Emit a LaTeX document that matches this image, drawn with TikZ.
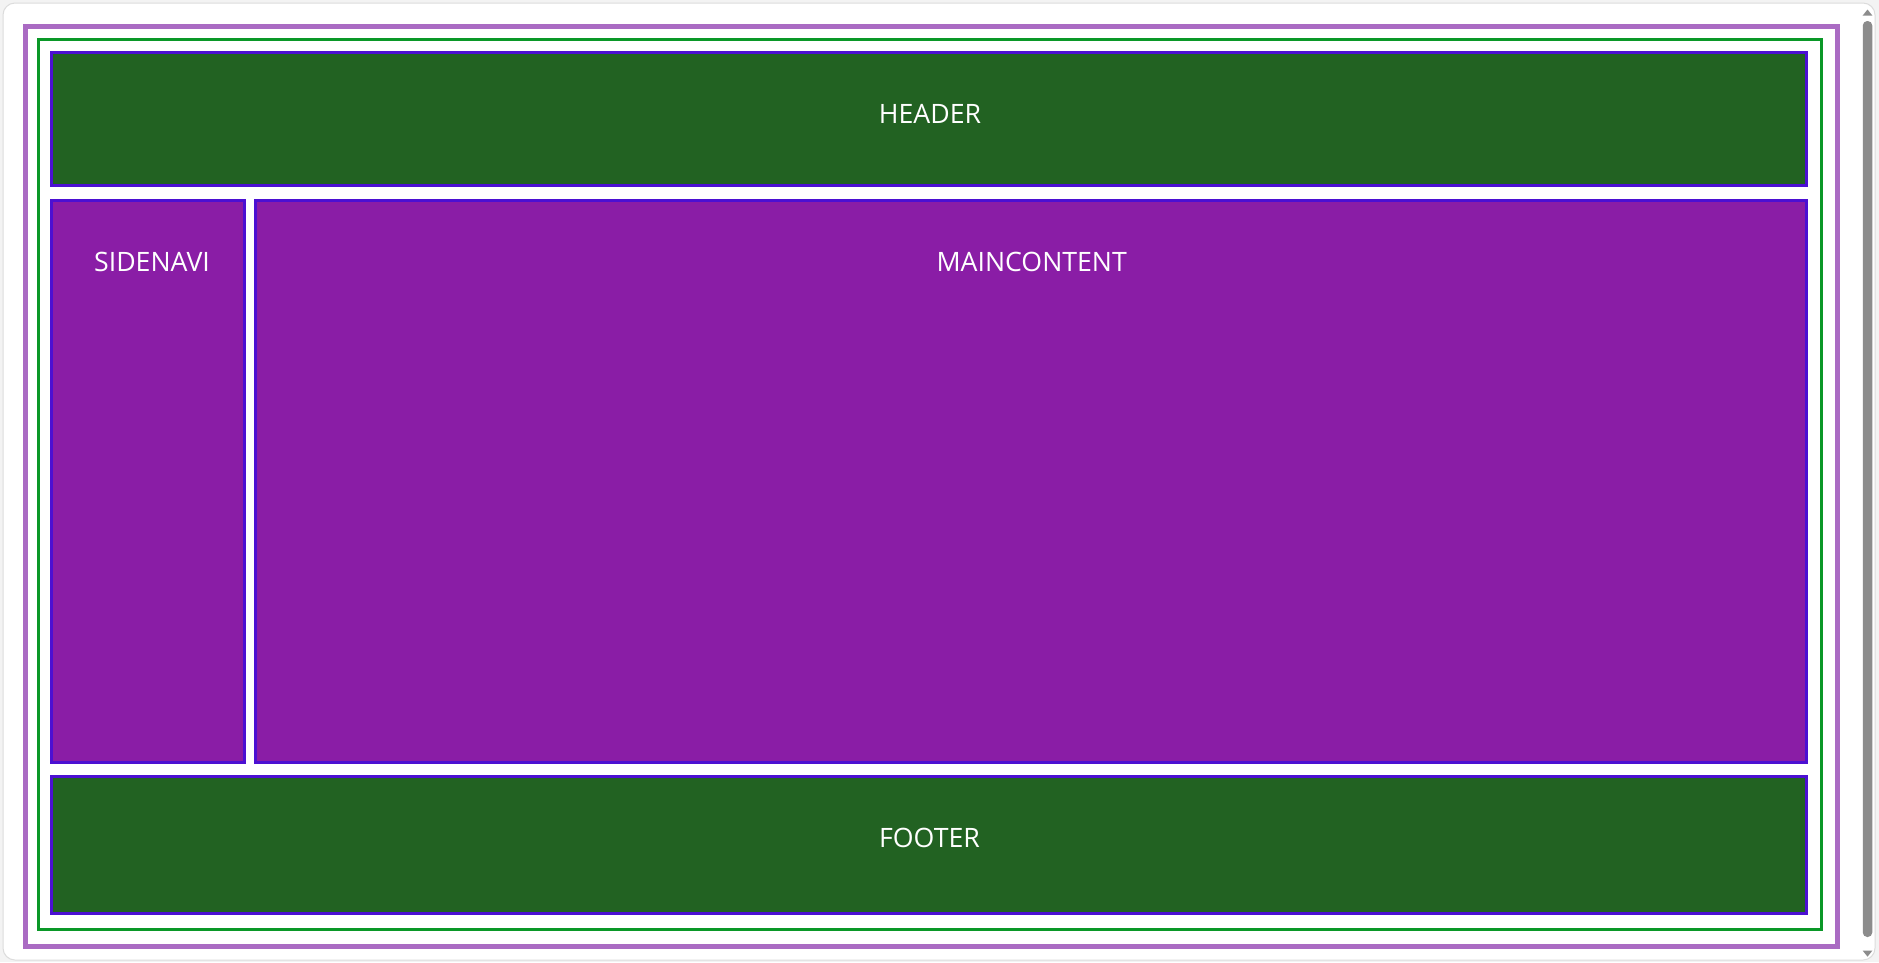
\documentclass[tikz,border=0pt]{standalone}
\usepackage{fontspec}
\setmainfont{Open Sans}
\usetikzlibrary{positioning}
\definecolor{pagebg}{HTML}{F3F3F3}
\definecolor{winedge}{HTML}{DCDCDC}
\definecolor{outerline}{HTML}{AA6BC3}
\definecolor{innerline}{HTML}{0A9828}
\definecolor{edge}{HTML}{4C10D2}
\definecolor{bandfill}{HTML}{226222}
\definecolor{areafill}{HTML}{8A1DA6}
\definecolor{scroll}{HTML}{8C8C8C}
\tikzset{
  frame/.style={draw, inner sep=0pt, outer sep=0pt},
  panel/.style={frame, draw=edge, line width=3pt},
  band/.style={panel, fill=bandfill},
  area/.style={panel, fill=areafill},
  caption/.style={anchor=base, text=white, inner sep=0pt, font=\fontsize{26.7}{32}\selectfont},
}
\begin{document}
\begin{tikzpicture}[x=1pt, y=-1pt]
\useasboundingbox (0,0) rectangle (1879,962);
\fill[pagebg] (0,0) rectangle (1879,962);
% window and frames
\node[frame, draw=winedge, fill=white, line width=1pt, rounded corners=12pt,
  minimum width=1872, minimum height=957] (window) at (939,481.5) {};
\node[frame, draw=outerline, line width=5pt, minimum width=1812, minimum height=920] (outer) at (931.5,486.5) {};
\node[frame, draw=innerline, line width=3pt, minimum width=1782.7, minimum height=889.7] (inner) at (929.85,484.35) {};
% layout boxes
\node[band, minimum width=1755, minimum height=132.7] (header) at (929,118.85) {};
\node[area, minimum width=193, minimum height=562.3] (sidenavi) at (148,481.65) {};
\node[area, minimum width=1551, minimum height=562.3] (maincontent) at (1031,481.65) {};
\node[band, minimum width=1755, minimum height=136.7] (footer) at (929,844.85) {};
% labels
\node[caption] (headertxt) at (930,123.3) {HEADER};
\node[caption] (sidenavitxt) at (152,271.7) {SIDENAVI};
\node[caption] (maincontenttxt) at (1031.7,271.7) {MAINCONTENT};
\node[caption] (footertxt) at (929.5,847.7) {FOOTER};
% scrollbar
\node[frame, draw=none, fill=scroll, rounded corners=4.5pt, minimum width=9.5, minimum height=916] (thumb) at (1867.5,479) {};
\fill[scroll] (1862.7,15.5) -- (1872.3,15.5) -- (1867.5,9.5) -- cycle;
\fill[scroll] (1862.7,950.7) -- (1872.3,950.7) -- (1867.5,956.7) -- cycle;
\end{tikzpicture}
\end{document}
